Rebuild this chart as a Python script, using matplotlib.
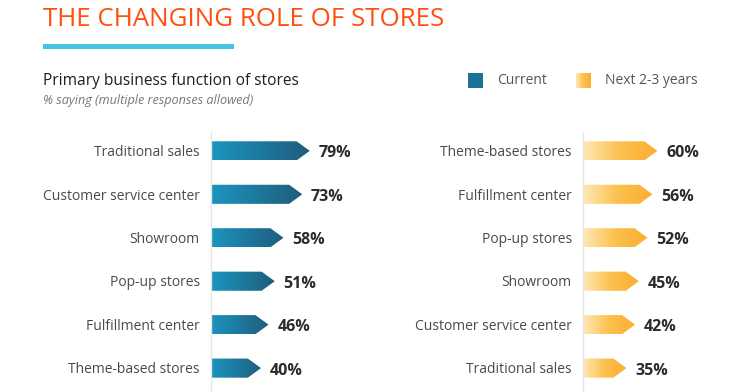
import numpy as np
import matplotlib.pyplot as plt
from matplotlib.colors import LinearSegmentedColormap
from matplotlib.patches import Polygon, Rectangle

# data
current_labels = ['Traditional sales', 'Customer service center', 'Showroom',
                  'Pop-up stores', 'Fulfillment center', 'Theme-based stores']
current_values = [79, 73, 58, 51, 46, 40]
future_labels = ['Theme-based stores', 'Fulfillment center', 'Pop-up stores',
                 'Showroom', 'Customer service center', 'Traditional sales']
future_values = [60, 56, 52, 45, 42, 35]

plt.rcParams['font.family'] = ['Open Sans', 'DejaVu Sans']

W, H = 740, 392
fig = plt.figure(figsize=(W / 100, H / 100), dpi=100)

blue_cmap = LinearSegmentedColormap.from_list('blue', ['#1b95c0', '#1f5d7c'])
gold_cmap = LinearSegmentedColormap.from_list('gold', ['#fee9b4', '#fcc04e', '#fbae2f'])


def fx(x):
    return x / W


def fy(y):
    return 1 - y / H


def draw_panel(ax, labels, values, cmap):
    grad = np.linspace(0, 1, 256).reshape(1, -1)
    for i, (lab, v) in enumerate(zip(labels, values)):
        tip = 10.5
        h = 0.22
        body = v - tip
        verts = [(0, i - h), (body, i - h), (v, i), (body, i + h), (0, i + h)]
        poly = Polygon(verts, closed=True, facecolor='none', edgecolor='none')
        ax.add_patch(poly)
        im = ax.imshow(grad, cmap=cmap, aspect='auto', extent=(0, v, i + h, i - h),
                       interpolation='bicubic')
        im.set_clip_path(poly)
        ax.text(v + 7, i + 0.06, f'{v}%', ha='left', va='center', fontsize=11.5,
                fontweight='bold', color='#2b2b2b', clip_on=False)
        ax.text(-9, i + 0.04, lab, ha='right', va='center', fontsize=10,
                color='#4a4a4a', clip_on=False)
    ax.plot([0, 0], [-0.44, 5.6], color='#e6e6e6', lw=1, clip_on=False, zorder=0)
    ax.set_xlim(0, 100)
    ax.set_ylim(5.55, -0.48)
    ax.axis('off')


ax1 = fig.add_axes([fx(211), fy(392), 125 / W, 262 / H])
draw_panel(ax1, current_labels, current_values, blue_cmap)

ax2 = fig.add_axes([fx(583), fy(392), 124 / W, 262 / H])
draw_panel(ax2, future_labels, future_values, gold_cmap)

# title and rule
fig.text(fx(43), fy(26), 'THE CHANGING ROLE OF STORES', fontsize=18.6,
         color='#ff4f0f', va='baseline', ha='left', fontweight='medium')
fig.add_artist(Rectangle((fx(43), fy(49)), (234 - 43) / W, 4.5 / H,
                         transform=fig.transFigure, color='#47c3e6', lw=0))

fig.text(fx(43), fy(85), 'Primary business function of stores', fontsize=11.2,
         color='#1e1e1e', va='baseline', ha='left', fontweight='medium')
fig.text(fx(43), fy(104), '% saying (multiple responses allowed)', fontsize=9.1,
         color='#777777', va='baseline', ha='left', style='italic')

# legend
fig.add_artist(Rectangle((fx(468), fy(88)), 15 / W, 15 / H,
                         transform=fig.transFigure, color='#1a7396', lw=0))
fig.text(fx(497), fy(81), 'Current', fontsize=10, color='#555555', va='center')
lax = fig.add_axes([fx(576), fy(88), 15 / W, 15 / H])
lax.imshow(np.linspace(0, 1, 64).reshape(1, -1), cmap=gold_cmap, aspect='auto')
lax.axis('off')
fig.text(fx(605), fy(81), 'Next 2-3 years', fontsize=10, color='#555555', va='center')

fig.savefig('out.png', dpi=100)
